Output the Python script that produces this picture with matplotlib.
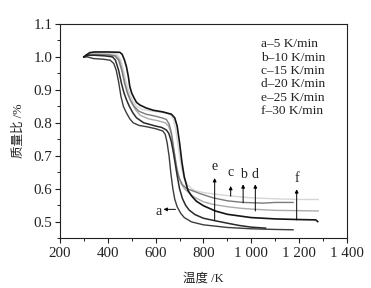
import matplotlib
matplotlib.use("Agg")
import matplotlib.pyplot as plt
from matplotlib.ticker import FixedLocator, MultipleLocator, FixedFormatter

# ---------------- data ----------------
T_a = [300, 315, 340, 380, 410, 425, 435, 445, 455, 465, 478, 492, 506, 530, 562, 600, 630, 640, 648, 656,
       664, 672, 680, 690, 705, 720, 750, 800, 900, 1000, 1100, 1175]
m_a = [1.0, 1.0, 0.995, 0.993, 0.99, 0.98, 0.96, 0.925, 0.88, 0.85, 0.83, 0.812, 0.80, 0.792, 0.788, 0.782,
       0.775, 0.765, 0.74, 0.70, 0.645, 0.60, 0.568, 0.545, 0.525, 0.512, 0.499, 0.49, 0.482, 0.478, 0.476, 0.475]

T_e = [300, 320, 345, 390, 420, 432, 445, 457, 468, 478, 490, 505, 520, 550, 600, 625, 645, 655, 665, 673,
       681, 690, 700, 712, 725, 740, 765, 800, 845, 900, 950, 1000, 1060]
m_e = [1.0, 1.005, 1.005, 1.003, 1.0, 0.99, 0.96, 0.92, 0.89, 0.87, 0.85, 0.83, 0.815, 0.80, 0.79, 0.786,
       0.778, 0.768, 0.745, 0.715, 0.68, 0.64, 0.60, 0.57, 0.55, 0.535, 0.521, 0.51, 0.503, 0.495, 0.488, 0.483, 0.48]

T_b = [300, 320, 345, 400, 430, 445, 458, 470, 482, 495, 510, 530, 560, 600, 630, 645, 657, 666, 674, 682,
       690, 700, 712, 730, 760, 785, 840, 900, 966, 1050, 1100, 1175]
m_b = [1.0, 1.005, 1.007, 1.006, 1.003, 0.99, 0.96, 0.92, 0.89, 0.868, 0.85, 0.835, 0.826, 0.82, 0.814, 0.81,
       0.795, 0.77, 0.73, 0.69, 0.655, 0.63, 0.612, 0.60, 0.592, 0.585, 0.572, 0.563, 0.558, 0.556, 0.558, 0.558]

T_d = [300, 320, 345, 400, 435, 450, 462, 474, 486, 500, 515, 535, 570, 610, 640, 654, 664, 672, 680, 688,
       697, 707, 720, 735, 760, 800, 840, 900, 960, 1017, 1100, 1200, 1280]
m_d = [1.0, 1.006, 1.009, 1.008, 1.004, 0.99, 0.955, 0.915, 0.885, 0.86, 0.84, 0.823, 0.812, 0.806, 0.80,
       0.79, 0.77, 0.735, 0.70, 0.665, 0.635, 0.615, 0.60, 0.59, 0.575, 0.56, 0.552, 0.545, 0.54, 0.537, 0.534,
       0.533, 0.532]

T_c = [300, 320, 345, 400, 440, 455, 467, 478, 490, 505, 520, 545, 590, 640, 662, 675, 684, 692, 700, 709,
       720, 735, 760, 800, 850, 924, 1000, 1100, 1200, 1280]
m_c = [1.0, 1.008, 1.012, 1.012, 1.008, 0.99, 0.955, 0.92, 0.89, 0.865, 0.85, 0.84, 0.835, 0.83, 0.825, 0.81,
       0.78, 0.74, 0.70, 0.66, 0.63, 0.61, 0.595, 0.588, 0.583, 0.577, 0.572, 0.569, 0.567, 0.567]

T_f = [300, 310, 325, 345, 400, 450, 460, 470, 478, 486, 492, 500, 510, 520, 534, 560, 590, 630, 666, 680,
       690, 700, 710, 720, 735, 750, 770, 800, 850, 900, 1000, 1100, 1200, 1270, 1278]
m_f = [1.0, 1.006, 1.013, 1.015, 1.015, 1.014, 1.008, 0.99, 0.97, 0.94, 0.91, 0.89, 0.875, 0.862, 0.854, 0.845,
       0.838, 0.833, 0.826, 0.815, 0.79, 0.74, 0.68, 0.635, 0.595, 0.578, 0.562, 0.548, 0.532, 0.522, 0.512,
       0.508, 0.506, 0.505, 0.500]

legend_lines = ["a–5 K/min", "b–10 K/min", "c–15 K/min", "d–20 K/min", "e–25 K/min", "f–30 K/min"]

# vertical arrow markers: label, x, tail y, head y, label y
arrow_labels = ["e", "c", "b", "d", "f"]
arrow_x = [847, 914, 966, 1017, 1190]
arrow_tail = [0.504, 0.577, 0.557, 0.532, 0.505]
arrow_head = [0.632, 0.608, 0.613, 0.613, 0.598]
arrow_text_y = [0.648, 0.628, 0.624, 0.624, 0.612]

xticks = [200, 400, 600, 800, 1000, 1200, 1400]
xticklabels = ["200", "400", "600", "800", "1 000", "1 200", "1 400"]
yticks = [0.5, 0.6, 0.7, 0.8, 0.9, 1.0, 1.1]
yticklabels = ["0.5", "0.6", "0.7", "0.8", "0.9", "1.0", "1.1"]

# ---------------- plot ----------------
plt.rcParams['font.family'] = ['Liberation Serif', 'Noto Sans CJK SC']

fig = plt.figure(figsize=(3.71, 2.88), dpi=100)
ax = fig.add_axes([0.1617, 0.1736, 0.7733, 0.7431])

ax.plot(T_c, m_c, color='#d6d6d6', lw=1.0)
ax.plot(T_d, m_d, color='#ababab', lw=1.0)
ax.plot(T_b, m_b, color='#7a7a7a', lw=1.0)
ax.plot(T_a, m_a, color='#3c3c3c', lw=1.0)
ax.plot(T_e, m_e, color='#2a2a2a', lw=1.1)
ax.plot(T_f, m_f, color='#141414', lw=1.2)

for lab, x, y0, y1, yt in zip(arrow_labels, arrow_x, arrow_tail, arrow_head, arrow_text_y):
    ax.annotate('', xy=(x, y1), xytext=(x, y0),
                arrowprops=dict(arrowstyle='-|>', lw=0.7, color='black', mutation_scale=5,
                                shrinkA=0, shrinkB=0))
    ax.text(x, yt, lab, ha='center', va='bottom', fontsize=10, color='#222222')

ax.annotate('', xy=(633, 0.537), xytext=(683, 0.537),
            arrowprops=dict(arrowstyle='-|>', lw=0.7, color='black', mutation_scale=5,
                            shrinkA=0, shrinkB=0))
ax.text(627, 0.530, 'a', ha='right', va='center', fontsize=10, color='#222222')

for i, line in enumerate(legend_lines):
    ax.text(0.70, 0.905 - i * 0.0625, line, transform=ax.transAxes, fontsize=9.6,
            ha='left', va='center', color='#222222')

ax.set_xlim(200, 1400)
ax.set_ylim(0.45, 1.1)
ax.xaxis.set_major_locator(FixedLocator(xticks))
ax.xaxis.set_major_formatter(FixedFormatter(xticklabels))
ax.xaxis.set_minor_locator(MultipleLocator(100))
ax.yaxis.set_major_locator(FixedLocator(yticks))
ax.yaxis.set_major_formatter(FixedFormatter(yticklabels))
ax.yaxis.set_minor_locator(MultipleLocator(0.05))

ax.tick_params(which='major', direction='out', length=3.5, width=0.8, labelsize=10.8, colors='#222222', pad=2)
ax.tick_params(which='minor', direction='out', length=2, width=0.7, colors='#222222')
ax.tick_params(axis='x', pad=3)
for s in ax.spines.values():
    s.set_linewidth(0.8)
    s.set_color('#222222')

ax.set_xlabel('温度 /K', fontsize=9, color='#222222', labelpad=9)
ax.set_ylabel('质量比 /%', fontsize=9, color='#222222', labelpad=6)

fig.savefig('out.png', dpi=100, facecolor='white')
